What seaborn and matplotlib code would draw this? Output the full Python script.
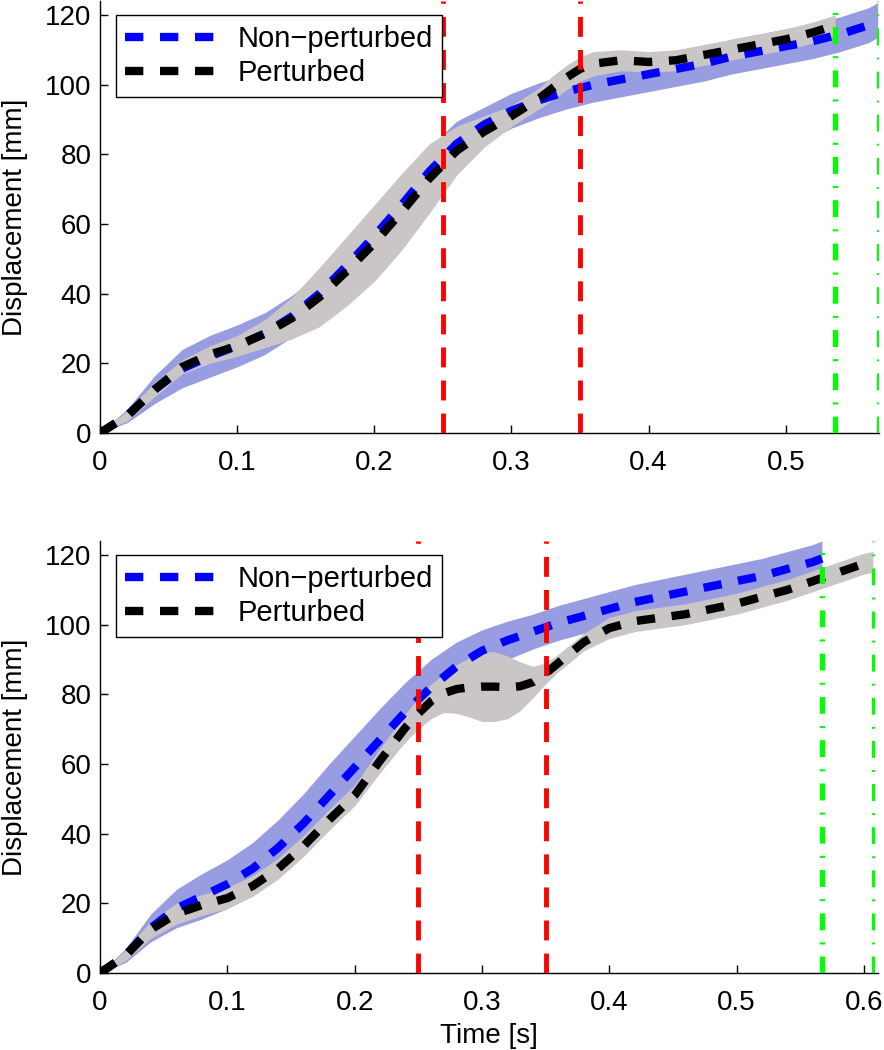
import numpy as np
import matplotlib
matplotlib.use("Agg")
import matplotlib.pyplot as plt
import seaborn as sns

sns.set_style("ticks")
plt.rcParams['font.family'] = ['Liberation Sans', 'DejaVu Sans']
plt.rcParams['xtick.direction'] = 'in'
plt.rcParams['ytick.direction'] = 'in'
plt.rcParams['text.color'] = 'black'
plt.rcParams['axes.labelcolor'] = 'black'
plt.rcParams['xtick.color'] = 'black'
plt.rcParams['ytick.color'] = 'black'

# ---- top panel ----
t_top_np = [0, 0.02, 0.04, 0.06, 0.08, 0.10, 0.12, 0.14, 0.16, 0.18, 0.20, 0.22, 0.24, 0.26, 0.28,
            0.30, 0.32, 0.34, 0.36, 0.38, 0.40, 0.42, 0.44, 0.46, 0.48, 0.50, 0.52, 0.54, 0.56, 0.567]
top_np_mean = [0, 5, 12.5, 18.5, 22, 25, 28.5, 33.5, 40, 48, 56.5, 65.5, 75, 83, 88.5,
               92.5, 95.5, 98, 100, 101.5, 103, 104.5, 106, 108, 109.5, 111, 112.5, 114.5, 117, 118.5]
top_np_sd = [0, 2, 4, 5.5, 6, 6, 6, 6, 6, 6.5, 7, 7, 7, 6.5, 5,
             5, 5, 5, 5, 5, 5, 5, 5, 5, 5, 5, 5, 5, 5, 5]

t_top_p = [0, 0.02, 0.04, 0.06, 0.08, 0.10, 0.12, 0.14, 0.16, 0.18, 0.20, 0.22, 0.24, 0.26, 0.28,
           0.30, 0.32, 0.33, 0.34, 0.35, 0.36, 0.38, 0.40, 0.42, 0.44, 0.46, 0.48, 0.50, 0.52, 0.536]
top_p_mean = [0, 5, 12.5, 19, 22.5, 25, 28.5, 33, 39, 46.5, 54.5, 63.5, 73, 81, 86.5,
              91, 96, 99, 102, 104.5, 106, 107, 106.5, 107, 108.5, 110, 111.5, 113, 115, 117]
top_p_sd = [0, 1.5, 2, 2, 2.5, 3, 4, 6, 8.5, 10, 11, 11, 10, 7, 4.5,
            3, 3, 3.5, 3.5, 3.5, 3.5, 3, 3, 3, 3, 3, 3, 3, 3, 3]

# ---- bottom panel ----
t_bot_np = [0, 0.02, 0.04, 0.06, 0.08, 0.10, 0.12, 0.14, 0.16, 0.18, 0.20, 0.22, 0.24, 0.26, 0.28,
            0.30, 0.32, 0.34, 0.36, 0.38, 0.40, 0.42, 0.44, 0.46, 0.48, 0.50, 0.52, 0.54, 0.56, 0.567]
bot_np_mean = [0, 5, 13, 18.5, 22, 25.5, 30, 36, 43, 51, 59, 67, 75, 82, 88,
               92.5, 95.5, 98, 100.5, 102.5, 104.5, 106.5, 108, 109.5, 111, 112.5, 114, 116, 118, 119]
bot_np_sd = [0, 2, 4, 5.5, 6.5, 7, 7.5, 8, 8.5, 9, 9, 9, 8.5, 8, 7,
             6, 5.5, 5, 5, 5, 5, 5, 5, 5, 5, 5, 5, 5, 5, 5]

t_bot_p = [0, 0.02, 0.04, 0.06, 0.08, 0.10, 0.12, 0.14, 0.16, 0.18, 0.20, 0.22, 0.24, 0.25, 0.26,
           0.27, 0.28, 0.29, 0.30, 0.31, 0.32, 0.33, 0.34, 0.35, 0.36, 0.38, 0.40, 0.42, 0.44,
           0.46, 0.48, 0.50, 0.52, 0.54, 0.56, 0.58, 0.60, 0.607]
bot_p_mean = [0, 5, 12.5, 17, 19.5, 21.5, 25, 30, 36.5, 44, 51, 61, 70.5, 74.5, 78,
              80.3, 81.5, 82, 82.2, 82.2, 82, 82.3, 83.5, 86, 89, 95, 99, 101, 102,
              103, 104.5, 106, 108, 110, 112.5, 115, 117.5, 118]
bot_p_sd = [0, 1.5, 2.5, 3, 3, 3, 3, 3, 3, 3, 3, 3.5, 4, 4.5, 5,
            5.5, 7, 8.5, 10, 10, 9, 7, 4.5, 3, 2.5, 2.5, 3, 3, 3,
            3, 3, 3, 3, 3, 3, 3, 3, 3]

red_lines = [0.25, 0.35]
green_top = [0.536, 0.567]
green_bot = [0.567, 0.607]

y_ticks = [0, 20, 40, 60, 80, 100, 120]
x_ticks_top = [0, 0.1, 0.2, 0.3, 0.4, 0.5]
x_ticks_bot = [0, 0.1, 0.2, 0.3, 0.4, 0.5, 0.6]
x_labels_top = ["0", "0.1", "0.2", "0.3", "0.4", "0.5"]
x_labels_bot = ["0", "0.1", "0.2", "0.3", "0.4", "0.5", "0.6"]

BLUE_BAND = '#989ce0'
GRAY_BAND = '#cbc6c6'
DASH = (0, (2.2, 2.0))


def panel(ax, tnp, mnp, snp, tp, mp, sp, greens, xmax, xt, xl):
    mnp, snp, mp, sp = map(np.asarray, (mnp, snp, mp, sp))
    ax.fill_between(tnp, mnp - snp, mnp + snp, color=BLUE_BAND, lw=0, zorder=1)
    ax.fill_between(tp, mp - sp, mp + sp, color=GRAY_BAND, lw=0, zorder=1.5)
    sns.lineplot(x=tnp, y=mnp, ax=ax, color='#0000ff', lw=6, linestyle=DASH,
                 dash_capstyle='butt', label='Non\u2212perturbed', zorder=2)
    sns.lineplot(x=tp, y=mp, ax=ax, color='black', lw=6, linestyle=DASH,
                 dash_capstyle='butt', label='Perturbed', zorder=3)
    for x in red_lines:
        ax.axvline(x, color='#ff0000', lw=3.5, ls=(0, (4.1, 2.7)), dash_capstyle='butt', zorder=4)
    ax.axvline(greens[0], color='#00ff00', lw=3.8, ls=(0, (3.2, 2.3, 0.4, 2.3)),
               dash_capstyle='butt', zorder=4)
    ax.axvline(greens[1], color='#00ff00', lw=2.3, ls=(0, (5.3, 3.8, 0.6, 3.8)),
               dash_capstyle='butt', zorder=4)
    ax.set_xlim(0, xmax)
    ax.set_ylim(0, 124)
    ax.set_yticks(y_ticks)
    ax.set_xticks(xt, xl)
    ax.tick_params(labelsize=20, length=6, width=1, color='black', labelcolor='black')
    ax.tick_params(axis='x', pad=12)
    ax.tick_params(axis='y', pad=6)
    sns.despine(ax=ax)
    for s in ax.spines.values():
        s.set_linewidth(1)
        s.set_color('black')
    ax.set_ylabel('Displacement [mm]', fontsize=20)
    ax.yaxis.set_label_coords(-0.092, 0.5)
    leg = ax.legend(loc='upper left', bbox_to_anchor=(0.02, 0.967), borderaxespad=0,
                    fontsize=21, handlelength=3.2, handletextpad=0.65, labelspacing=0.22,
                    borderpad=0.33, fancybox=False, framealpha=1, edgecolor='black')
    leg.get_frame().set_linewidth(1)


fig = plt.figure(figsize=(8.84, 10.5), dpi=100)
ax1 = fig.add_axes([100 / 884, 617 / 1050, 779 / 884, 432 / 1050])
ax2 = fig.add_axes([100 / 884, 77 / 1050, 778 / 884, 432 / 1050])

panel(ax1, t_top_np, top_np_mean, top_np_sd, t_top_p, top_p_mean, top_p_sd,
      green_top, 0.568, x_ticks_top, x_labels_top)
panel(ax2, t_bot_np, bot_np_mean, bot_np_sd, t_bot_p, bot_p_mean, bot_p_sd,
      green_bot, 0.611, x_ticks_bot, x_labels_bot)
ax2.set_xlabel('Time [s]', fontsize=20, labelpad=5)

fig.savefig('out.png', dpi=100)
